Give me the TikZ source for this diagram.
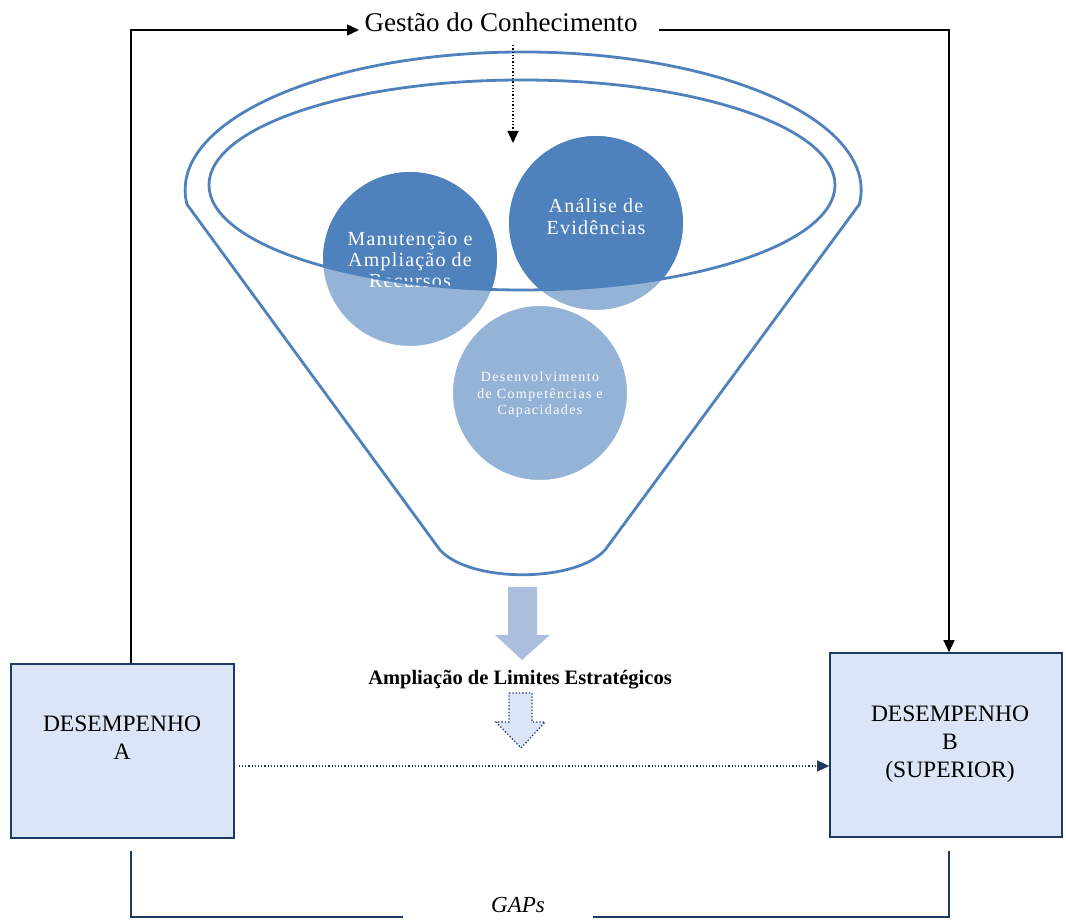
\documentclass[tikz,border=0pt]{standalone}
\usepackage{fontspec}
\setmainfont{Liberation Serif}
\newfontfamily\ballfont[LetterSpace=6]{Liberation Serif}
\newfontfamily\smallballfont[LetterSpace=10]{Liberation Serif}
\usetikzlibrary{arrows.meta}
\definecolor{funnelblue}{RGB}{79,129,189}
\definecolor{darkball}{RGB}{79,129,189}
\definecolor{lightball}{RGB}{149,179,215}
\definecolor{navy}{RGB}{31,56,100}
\definecolor{boxfill}{RGB}{218,229,246}
\definecolor{bigarrow}{RGB}{172,190,221}
\tikzset{
  perfbox/.style={draw=navy, line width=1.6pt, fill=boxfill, rectangle},
  boxtext/.style={align=center, font=\fontsize{23.5}{28}\selectfont},
  ball/.style={circle, minimum size=176pt, inner sep=0pt, fill=lightball, draw=white, line width=2pt},
  balltext/.style={align=center, text=white},
  funnelline/.style={draw=funnelblue, line width=2.8pt},
  blackline/.style={draw=black, line width=1.5pt},
  tipblack/.style={-{Triangle[length=12pt,width=11pt]}},
  tipnavy/.style={-{Triangle[length=12pt,width=11pt]}},
}
\begin{document}
\begin{tikzpicture}[x=1pt,y=1pt]
\useasboundingbox (0,0) rectangle (1066,919);

% funnel body
\path[funnelline, line join=round] (440,369) -- (187,714.6)
  arc[start angle=186, end angle=-6, x radius=338, y radius=138]
  -- (605,369) .. controls (575,336) and (470,336) .. cycle;

% the three balls (light part)
\node[ball] (rec) at (410,660) {};
\node[ball] (evi) at (596,696) {};
\node[ball] (dev) at (540,526) {};

% darker part of the balls, inside the rim
\begin{scope}
  \clip (522,734) ellipse[x radius=313, y radius=105];
  \fill[darkball] (rec.center) circle[radius=87];
  \fill[darkball] (evi.center) circle[radius=87];
\end{scope}

% ball labels
\node[balltext, font=\ballfont\fontsize{20}{21}\selectfont] (rect) at (410,659)
  {Manutenção e\\Ampliação de\\Recursos};
\node[balltext, font=\ballfont\fontsize{20}{22}\selectfont] (evit) at (596,702)
  {Análise de\\Evidências};
\node[balltext, font=\smallballfont\fontsize{14}{16.5}\selectfont] (devt) at (540,524)
  {Desenvolvimento\\de Competências e\\Capacidades};

% inner rim
\draw[funnelline] (522,734) ellipse[x radius=313, y radius=105];

% solid block arrow below the funnel
\fill[bigarrow] (508,332) -- (537,332) -- (537,284) -- (550,284) -- (522,259)
  -- (495,284) -- (508,284) -- cycle;

\node[font=\bfseries\fontsize{20.5}{22}\selectfont] (lim) at (520,239)
  {Ampliação de Limites Estratégicos};

% dotted block arrow
\filldraw[fill=boxfill, draw=navy, dotted, line width=1.3pt]
  (509,226) -- (532,226) -- (532,197) -- (545,197) -- (521,171)
  -- (496,197) -- (509,197) -- cycle;

% performance boxes
\node[perfbox, minimum width=223pt, minimum height=174pt] (A) at (122.5,168) {};
\node[perfbox, minimum width=232pt, minimum height=184pt] (B) at (946,174) {};
\node[boxtext] (At) at (122,181) {DESEMPENHO\\A};
\node[boxtext] (Bt) at (950,175) {DESEMPENHO\\B\\(SUPERIOR)};

% knowledge management label and loop
\node[font=\fontsize{27}{30}\selectfont] (gc) at (501,897) {Gestão do Conhecimento};
\coordinate (lt) at (131,889);
\coordinate (rt) at (949,889);
\draw[blackline, tipblack] (A.north -| lt) -- (lt) -- ([xshift=-2pt]gc.west |- lt);
\draw[blackline, tipblack] ([xshift=18pt]gc.east |- rt) -- (rt) -- (B.north -| rt);

% dotted arrow into the funnel
\coordinate (dk1) at (513,874);
\coordinate (dk2) at (513,776);
\draw[black, dotted, line width=1.3pt, tipblack] (dk1) -- (dk2);

% dotted arrow from A to B
\coordinate (ab) at (0,153);
\draw[navy, dotted, line width=1.2pt, tipnavy] ([xshift=4pt]A.east |- ab) -- (B.west |- ab);

% gap bracket
\node[font=\itshape\fontsize{23}{26}\selectfont] (gaps) at (518,14) {GAPs};
\coordinate (g1) at (131,68);
\coordinate (g2) at (131,2);
\coordinate (g3) at (949,2);
\coordinate (g4) at (949,68);
\draw[navy, line width=1.5pt] (g1) -- (g2) -- ([xshift=-85pt]gaps.west |- g2);
\draw[navy, line width=1.5pt] ([xshift=45pt]gaps.east |- g3) -- (g3) -- (g4);
\end{tikzpicture}
\end{document}
